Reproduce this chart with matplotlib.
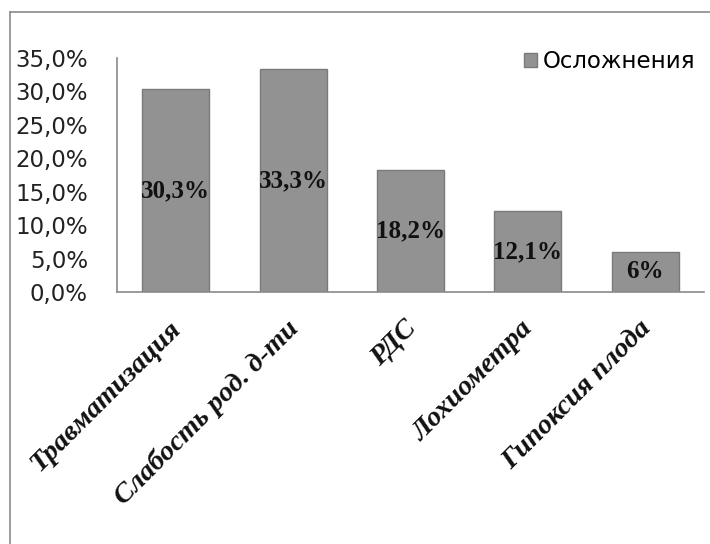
import matplotlib
matplotlib.use("Agg")
import matplotlib.pyplot as plt
from matplotlib.lines import Line2D
from matplotlib.patches import Patch
from matplotlib.transforms import ScaledTranslation

categories = ["Травматизация", "Слабость род. д-ти", "РДС", "Лохиометра", "Гипоксия плода"]
values = [30.3, 33.3, 18.2, 12.1, 6.0]
value_labels = ["30,3%", "33,3%", "18,2%", "12,1%", "6%"]
yticks = [0, 5, 10, 15, 20, 25, 30, 35]
ytick_labels = ["0,0%", "5,0%", "10,0%", "15,0%", "20,0%", "25,0%", "30,0%", "35,0%"]
series_name = "Осложнения"

W, H = 710, 544
fig = plt.figure(figsize=(W / 100, H / 100), dpi=100)
ax = fig.add_axes([117 / W, 1 - 292 / H, 587 / W, 234 / H])

x = list(range(len(categories)))
bars = ax.bar(x, values, width=0.57, color="#929292", edgecolor="#7a7a7a", linewidth=1.0)
for b, lab in zip(bars, value_labels):
    ax.text(b.get_x() + b.get_width() / 2, b.get_height() / 2, lab,
            ha="center", va="center", fontsize=18, fontweight="bold",
            family="Liberation Serif", color="#111111")

ax.set_xlim(-0.5, len(categories) - 0.5)
ax.set_ylim(0, 35)
ax.set_yticks(yticks)
ax.set_yticklabels(ytick_labels, fontsize=16.5, family="DejaVu Sans", color="#222222")
ax.tick_params(axis="y", length=0, pad=21)
ax.set_xticks(x)
ax.set_xticklabels(categories, rotation=45, ha="right", rotation_mode="anchor",
                   fontsize=20.5, fontweight="bold", fontstyle="italic",
                   family="Liberation Serif", color="#111111")
ax.tick_params(axis="x", length=0, pad=17)
shift = ScaledTranslation(-7 / 100, 0, fig.dpi_scale_trans)
for t in ax.get_xticklabels():
    t.set_transform(t.get_transform() + shift)
for s in ["top", "right"]:
    ax.spines[s].set_visible(False)
for s in ["left", "bottom"]:
    ax.spines[s].set_color("#8a8a8a")
    ax.spines[s].set_linewidth(1.2)

leg = ax.legend([Patch(facecolor="#929292", edgecolor="#7a7a7a")], [series_name],
                loc="center right", bbox_to_anchor=((695 - 117) / 587, (292 - 62) / 234),
                frameon=False, prop={"family": "DejaVu Sans", "size": 16.5},
                handlelength=0.55, handleheight=0.55, handletextpad=0.25,
                borderaxespad=0, borderpad=0)

# outer chart frame (partially visible)
fig.add_artist(Line2D([10 / W, 1], [1 - 12 / H, 1 - 12 / H], color="#8a8a8a", lw=1.2))
fig.add_artist(Line2D([10 / W, 10 / W], [0, 1 - 12 / H], color="#8a8a8a", lw=1.2))

fig.savefig("out.png", dpi=100)
